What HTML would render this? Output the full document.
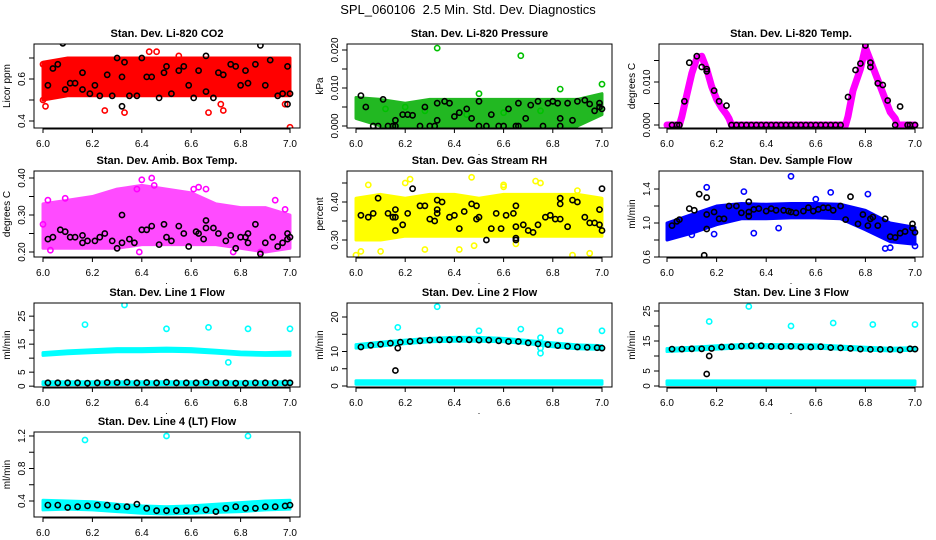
<!DOCTYPE html>
<html><head><meta charset="utf-8"><style>
body{margin:0;background:#fff}
svg{display:block;font-family:"Liberation Sans",Arial,sans-serif}
</style></head><body>
<svg id="chart" width="936" height="540" viewBox="0 0 936 540">
<text x="468" y="14" text-anchor="middle" font-size="13">SPL_060106 &#160;2.5 Min. Std. Dev. Diagnostics</text>
</svg>
<script>
const bandX=[6.0,6.1,6.2,6.3,6.4,6.5,6.6,6.7,6.8,6.9,7.0];
const lineX=[6.02,6.06,6.1,6.14,6.18,6.22,6.26,6.3,6.34,6.38,6.42,6.46,6.5,6.54,6.58,6.62,6.66,6.7,6.74,6.78,6.82,6.86,6.9,6.94,6.98,7.0];
const xTicks=[6.0,6.2,6.4,6.6,6.8,7.0];
const xTickLabels=["6.0","6.2","6.4","6.6","6.8","7.0"];

const co2Lower=[0.5,0.52,0.52,0.52,0.52,0.52,0.52,0.52,0.52,0.52,0.52];
const co2Upper=[0.68,0.7,0.7,0.7,0.7,0.7,0.7,0.7,0.7,0.7,0.7];
const co2Outliers=[[6.0,0.5],[6.01,0.47],[6.25,0.45],[6.33,0.44],[6.67,0.44],[6.73,0.45],[7.0,0.37],[6.43,0.73],[6.46,0.73],[6.0,0.67],[6.98,0.48],[6.72,0.48],[6.14,0.69],[6.55,0.71]];
const co2BlackX=[6.02,6.04,6.06,6.08,6.09,6.11,6.13,6.16,6.16,6.19,6.21,6.23,6.26,6.28,6.3,6.32,6.32,6.33,6.35,6.38,6.4,6.42,6.44,6.47,6.49,6.5,6.52,6.55,6.57,6.59,6.61,6.63,6.66,6.66,6.69,6.71,6.73,6.76,6.78,6.8,6.82,6.83,6.86,6.88,6.9,6.92,6.95,6.97,6.99,7.0,6.99];
const co2BlackY=[0.57,0.65,0.67,0.77,0.55,0.58,0.58,0.63,0.55,0.53,0.57,0.52,0.62,0.52,0.7,0.61,0.47,0.68,0.52,0.52,0.7,0.61,0.61,0.51,0.63,0.66,0.53,0.64,0.66,0.57,0.51,0.64,0.71,0.54,0.51,0.63,0.62,0.67,0.66,0.57,0.64,0.58,0.67,0.76,0.57,0.69,0.52,0.53,0.66,0.53,0.48];

const presLower=[0.002,0,0,0,0,0,0,0,0,0,0.003];
const presUpper=[0.0075,0.007,0.006,0.007,0.007,0.007,0.007,0.007,0.007,0.007,0.0085];
const presOutliers=[[6.33,0.0205],[6.67,0.0185],[7.0,0.011],[6.83,0.0097],[6.5,0.0085],[6.12,0.0045],[6.2,0.005],[6.28,0.004],[6.45,0.003],[6.6,0.0035],[6.75,0.004]];
const presBlack=[[6.02,0.008],[6.04,0.005],[6.07,0],[6.09,0],[6.11,0.007],[6.13,0],[6.15,0],[6.16,0.0015],[6.16,0],[6.19,0.003],[6.21,0.003],[6.23,0.0028],[6.26,0],[6.28,0.005],[6.3,0],[6.32,0],[6.33,0.0015],[6.33,0.006],[6.36,0.0065],[6.38,0.006],[6.4,0.0025],[6.42,0.0035],[6.45,0.0045],[6.47,0.002],[6.5,0.0065],[6.5,0],[6.53,0],[6.55,0.003],[6.58,0],[6.6,0],[6.62,0.0045],[6.65,0],[6.66,0],[6.66,0.006],[6.69,0.002],[6.71,0.0055],[6.74,0.0065],[6.76,0],[6.78,0.006],[6.8,0.0065],[6.82,0.006],[6.83,0.002],[6.83,0],[6.86,0.006],[6.88,0.0015],[6.9,0.0065],[6.93,0.0068],[6.95,0.0058],[6.97,0.004],[6.99,0.006],[7.0,0.0045],[6.99,0.005]];

const tempCurveX=[6.0,6.05,6.06,6.08,6.1,6.12,6.14,6.16,6.18,6.2,6.22,6.24,6.25,6.26,6.72,6.73,6.75,6.78,6.8,6.82,6.84,6.86,6.88,6.9,6.92,6.93,7.0];
const tempCurveY=[0,0,0.002,0.007,0.012,0.0155,0.016,0.013,0.009,0.006,0.004,0.0025,0.0015,0,0,0.002,0.008,0.013,0.018,0.015,0.012,0.009,0.006,0.003,0.0015,0,0];
const tempBlack=[[6.02,0],[6.04,0],[6.05,0],[6.07,0.0055],[6.09,0.0145],[6.12,0.016],[6.14,0.0135],[6.16,0.013],[6.16,0.0125],[6.19,0.008],[6.21,0.0055],[6.24,0.0045],[6.26,0],[6.28,0],[6.3,0],[6.32,0],[6.34,0],[6.36,0],[6.38,0],[6.4,0],[6.42,0],[6.44,0],[6.46,0],[6.48,0],[6.5,0],[6.52,0],[6.54,0],[6.56,0],[6.58,0],[6.6,0],[6.62,0],[6.64,0],[6.66,0],[6.68,0],[6.7,0],[6.73,0.0065],[6.76,0.0128],[6.78,0.0143],[6.8,0.0185],[6.82,0.0135],[6.82,0.0145],[6.85,0.0097],[6.87,0.0093],[6.89,0.0057],[6.92,0],[6.94,0.0043],[6.97,0],[6.98,0],[7.0,0]];

const ambLower=[0.21,0.21,0.21,0.21,0.22,0.22,0.22,0.22,0.21,0.2,0.21];
const ambUpper=[0.33,0.34,0.35,0.37,0.38,0.37,0.36,0.33,0.32,0.32,0.3];
const ambOutliers=[[6.02,0.34],[6.09,0.345],[6.38,0.37],[6.4,0.395],[6.44,0.4],[6.45,0.38],[6.63,0.375],[6.61,0.37],[6.66,0.37],[6.94,0.34],[6.98,0.315],[6.0,0.275],[6.03,0.205],[6.39,0.2],[6.77,0.2],[6.88,0.2]];
const ambBlack=[[6.02,0.235],[6.04,0.24],[6.07,0.26],[6.09,0.255],[6.11,0.24],[6.13,0.24],[6.16,0.245],[6.16,0.225],[6.18,0.23],[6.21,0.23],[6.23,0.24],[6.25,0.25],[6.28,0.23],[6.3,0.21],[6.32,0.225],[6.32,0.3],[6.35,0.235],[6.37,0.225],[6.4,0.26],[6.42,0.26],[6.44,0.27],[6.47,0.22],[6.49,0.275],[6.5,0.24],[6.52,0.23],[6.55,0.27],[6.57,0.25],[6.59,0.215],[6.62,0.255],[6.63,0.25],[6.65,0.235],[6.66,0.285],[6.66,0.265],[6.69,0.265],[6.71,0.25],[6.74,0.23],[6.76,0.245],[6.78,0.21],[6.8,0.24],[6.82,0.24],[6.83,0.25],[6.83,0.225],[6.86,0.275],[6.88,0.195],[6.9,0.225],[6.93,0.24],[6.95,0.215],[6.97,0.225],[6.99,0.25],[7.0,0.24],[6.99,0.235]];

const rhLower=[0.3,0.3,0.31,0.31,0.31,0.31,0.31,0.31,0.31,0.31,0.31];
const rhUpper=[0.41,0.42,0.41,0.42,0.42,0.41,0.42,0.42,0.42,0.42,0.41];
const rhOutliers=[[6.0,0.26],[6.02,0.27],[6.1,0.27],[6.2,0.45],[6.22,0.46],[6.47,0.465],[6.42,0.275],[6.28,0.275],[6.6,0.445],[6.6,0.44],[6.73,0.455],[6.75,0.45],[6.88,0.26],[6.95,0.265],[6.9,0.43],[6.05,0.445],[6.48,0.285],[6.65,0.29]];
const rhBlack=[[6.02,0.365],[6.05,0.36],[6.07,0.37],[6.09,0.41],[6.13,0.37],[6.15,0.36],[6.16,0.38],[6.16,0.36],[6.16,0.325],[6.19,0.34],[6.21,0.37],[6.23,0.435],[6.26,0.39],[6.28,0.39],[6.3,0.355],[6.32,0.35],[6.33,0.405],[6.33,0.38],[6.33,0.37],[6.35,0.4],[6.38,0.36],[6.4,0.365],[6.42,0.33],[6.44,0.375],[6.47,0.395],[6.49,0.355],[6.49,0.39],[6.5,0.36],[6.53,0.3],[6.55,0.33],[6.57,0.37],[6.59,0.33],[6.61,0.365],[6.64,0.37],[6.65,0.39],[6.65,0.3],[6.65,0.305],[6.65,0.335],[6.68,0.34],[6.7,0.325],[6.72,0.32],[6.74,0.34],[6.77,0.36],[6.79,0.365],[6.81,0.355],[6.83,0.41],[6.83,0.395],[6.83,0.355],[6.86,0.335],[6.88,0.405],[6.9,0.4],[6.93,0.36],[6.95,0.345],[6.97,0.345],[6.99,0.38],[7.0,0.435],[6.99,0.34],[7.0,0.325]];

const sfLower=[0.8,0.88,0.98,1.05,1.05,1.06,1.06,1.05,0.92,0.78,0.75];
const sfUpper=[1.0,1.1,1.2,1.23,1.22,1.23,1.23,1.22,1.15,1.0,0.95];
const sfOutliers=[[6.5,1.55],[6.31,1.37],[6.16,1.42],[6.81,1.34],[6.66,1.36],[6.19,0.87],[6.88,0.7],[6.9,0.71],[7.0,0.73],[6.35,0.88],[6.45,0.94],[6.1,0.86],[6.6,1.28]];
const sfBlack=[[6.02,0.97],[6.04,1.02],[6.05,1.04],[6.09,1.17],[6.11,1.15],[6.13,1.34],[6.16,1.3],[6.16,1.1],[6.16,0.93],[6.15,0.62],[6.19,1.13],[6.21,1.05],[6.23,1.05],[6.25,1.2],[6.28,1.2],[6.3,1.12],[6.33,1.25],[6.33,1.13],[6.33,1.08],[6.35,1.16],[6.37,1.17],[6.4,1.14],[6.42,1.17],[6.44,1.15],[6.47,1.15],[6.49,1.14],[6.5,1.13],[6.52,1.12],[6.55,1.14],[6.57,1.18],[6.59,1.14],[6.61,1.16],[6.63,1.18],[6.65,1.18],[6.67,1.15],[6.7,1.2],[6.72,1.04],[6.74,1.31],[6.77,0.99],[6.79,1.1],[6.81,0.97],[6.82,1.05],[6.83,1.07],[6.85,0.97],[6.88,1.05],[6.9,0.84],[6.92,0.83],[6.94,0.88],[6.96,0.9],[6.99,0.99],[6.99,0.94],[7.0,0.89]];

const l1Lower=[11,11.6,12,12.3,12.3,12.5,12.3,11.8,11.2,11,11];
const l1Upper=[12,12.6,13,13.4,13.4,13.6,13.4,12.8,12.2,12,12.2];
const l1BaseLower=[0.6,0.6,0.6,0.6,0.6,0.6,0.6,0.6,0.6,0.6,0.6];
const l1BaseUpper=[1.6,1.6,1.6,1.6,1.6,1.6,1.6,1.6,1.6,1.6,1.6];
const l1Outliers=[[6.17,22],[6.33,29],[6.5,20.5],[6.67,21],[6.83,20.5],[7.0,20.5],[6.75,8.5]];
const l1BlackY=[1.2,1.2,1.2,1.2,1.1,1.2,1.3,1.3,1.4,1.2,1.3,1.2,1.4,1.2,1.2,1.2,1.4,1.2,1.2,1.1,1.1,1.2,1.2,1.2,1.2,1.2];
const l1Extra=[];

const l2Lower=[11,11.6,12.3,12.8,13,13,12.8,12.3,11.4,10.8,10.6];
const l2Upper=[12,12.7,13.3,13.8,14.1,14.1,13.8,13.2,12.5,11.9,11.7];
const l2BaseLower=[0.5,0.5,0.5,0.5,0.5,0.5,0.5,0.5,0.5,0.5,0.5];
const l2BaseUpper=[1.5,1.5,1.5,1.5,1.5,1.5,1.5,1.5,1.5,1.5,1.5];
const l2Outliers=[[6.17,17],[6.33,23],[6.5,16],[6.67,16.5],[6.83,16],[7.0,16],[6.75,9.5],[6.75,14],[6.75,11]];
const l2BlackY=[11.3,11.8,12.1,12.4,12.7,12.9,13.1,13.3,13.4,13.4,13.5,13.4,13.3,13.3,13.1,12.9,12.9,12.5,12.2,12.0,11.7,11.5,11.3,11.2,11.1,11.0];
const l2Extra=[[6.16,4.5],[6.17,11]];

const l3Lower=[11.5,11.9,12.3,12.7,12.7,12.7,12.6,12.3,11.9,11.7,11.9];
const l3Upper=[12.5,12.9,13.4,13.8,13.8,13.8,13.7,13.3,12.9,12.6,12.8];
const l3BaseLower=[0.5,0.5,0.5,0.5,0.5,0.5,0.5,0.5,0.5,0.5,0.5];
const l3BaseUpper=[1.7,1.7,1.7,1.7,1.7,1.7,1.7,1.7,1.7,1.7,1.7];
const l3Outliers=[[6.17,21.5],[6.33,26.5],[6.5,20],[6.67,21],[6.83,20.5],[7.0,20.5]];
const l3BlackY=[12.3,12.3,12.4,12.4,12.5,13.0,13.1,13.3,13.4,13.4,13.2,13.1,13.2,13.0,13.0,13.1,12.8,12.7,12.5,12.3,12.2,12.2,12.2,12.0,12.4,12.3];
const l3Extra=[[6.16,4],[6.17,10]];

const l4Lower=[0.29,0.3,0.29,0.27,0.25,0.24,0.25,0.26,0.27,0.29,0.3];
const l4Upper=[0.41,0.4,0.39,0.36,0.34,0.33,0.34,0.36,0.38,0.4,0.41];
const l4Outliers=[[6.17,1.15],[6.5,1.2],[6.83,1.2]];
const l4BlackY=[0.35,0.35,0.32,0.33,0.34,0.35,0.35,0.33,0.33,0.36,0.31,0.28,0.28,0.28,0.28,0.3,0.29,0.27,0.31,0.33,0.31,0.31,0.33,0.33,0.34,0.35];

const NS="http://www.w3.org/2000/svg";
const svg=document.getElementById('chart');
const COLS=[{l:34,r:300,x0:43,x1:290},{l:347,r:612,x0:356,x1:602},{l:659,r:923,x0:667,x1:915}];
const ROWS=[{t:44,b:128},{t:171,b:257},{t:303,b:387},{t:432,b:517}];
function mk(tag,attrs,parent){const e=document.createElementNS(NS,tag);for(const k in attrs)e.setAttribute(k,attrs[k]);(parent||svg).appendChild(e);return e;}

function panel(p){
  const c=COLS[p.col],r=ROWS[p.row];
  const g=mk('g',{});
  
  
  const sx=v=>c.x0+(v-6)*(c.x1-c.x0);
  const sy=v=>r.b-(v-p.ymin)/(p.ymax-p.ymin)*(r.b-r.t);
  const clip='clip'+p.name;
  const cp=mk('clipPath',{id:clip},g);mk('rect',{x:c.l,y:r.t,width:c.r-c.l,height:r.b-r.t},cp);
  const plot=mk('g',{'clip-path':'url(#'+clip+')'},g);
  (p.bands||[]).forEach(b=>{
    let d='';
    bandX.forEach((x,i)=>{d+=(i?'L':'M')+sx(x).toFixed(1)+','+sy(b.hi[i]).toFixed(1);});
    for(let i=bandX.length-1;i>=0;i--)d+='L'+sx(bandX[i]).toFixed(1)+','+sy(b.lo[i]).toFixed(1);
    const e=mk('path',{d:d+'Z',fill:b.color,stroke:b.color,'stroke-width':3,'stroke-linejoin':'round',opacity:b.op||1},plot);
    
    
  });
  if(p.curveX){
    const pts=p.curveX.map((x,i)=>sx(x).toFixed(1)+','+sy(p.curveY[i]).toFixed(1)).join(' ');
    const e=mk('polyline',{points:pts,fill:'none',stroke:p.color,'stroke-width':7,'stroke-linejoin':'round','stroke-linecap':'round'},plot);
    
    
  }
  const dot=(x,y,col)=>{const e=mk('circle',{cx:sx(x).toFixed(1),cy:sy(y).toFixed(1),r:2.6,fill:'none',stroke:col,'stroke-width':1.6},plot);
    
    };
  (p.outliers||[]).forEach(q=>dot(q[0],q[1],p.color));
  (p.black||[]).forEach(q=>dot(q[0],q[1],'#000'));
  const bx=mk('rect',{x:c.l,y:r.t,width:c.r-c.l,height:r.b-r.t,fill:'none',stroke:'#000','stroke-width':1},g);
  
  
  mk('line',{x1:sx(6),x2:sx(7),y1:r.b+1,y2:r.b+1,stroke:'#000'},g);
  xTicks.forEach((t,i)=>{
    mk('line',{x1:sx(t),x2:sx(t),y1:r.b,y2:r.b+5,stroke:'#000'},g);
    const tx=mk('text',{x:sx(t),y:r.b+19,'text-anchor':'middle','font-size':10},g);
    tx.textContent=xTickLabels[i];
    
    
  });
  const dt=mk('text',{x:(sx(6)+sx(7))/2,y:r.b+27,'text-anchor':'middle','font-size':9},g);dt.textContent='.';
  p.yTicks.forEach((t,i)=>{
    const y=sy(t);
    mk('line',{x1:c.l-5,x2:c.l,y1:y,y2:y,stroke:'#000'},g);
    if(p.yLabels[i]){
      const tx=mk('text',{x:0,y:0,'text-anchor':'middle','font-size':10,transform:`translate(${c.l-9},${y}) rotate(-90)`},g);
      tx.textContent=p.yLabels[i];
      
      
    }
  });
  const yt=mk('text',{x:0,y:0,'text-anchor':'middle','font-size':10,transform:`translate(${c.l-24},${(r.t+r.b)/2}) rotate(-90)`},g);
  yt.textContent=p.ylab;
  
  
  const ti=mk('text',{x:(c.l+c.r)/2,y:r.t-7,'text-anchor':'middle','font-size':11,'font-weight':'bold'},g);
  ti.textContent=p.title;
  
  
}
const pairs=(xs,ys)=>xs.map((x,i)=>[x,ys[i]]).filter(q=>q[1]!==undefined);

panel({name:'panel-co2',col:0,row:0,title:'Stan. Dev. Li-820 CO2',ylab:'Licor ppm',color:'#ff0000',ymin:0.3667,ymax:0.7667,
  yTicks:[0.4,0.5,0.6,0.7],yLabels:['0.4','','0.6',''],bands:[{lo:co2Lower,hi:co2Upper,color:'#ff0000'}],outliers:co2Outliers,black:pairs(co2BlackX,co2BlackY)});
panel({name:'panel-pressure',col:1,row:0,title:'Stan. Dev. Li-820 Pressure',ylab:'kPa',color:'#00c000',ymin:-0.00053,ymax:0.02158,
  yTicks:[0,0.005,0.01,0.015,0.02],yLabels:['0.000','','0.010','','0.020'],bands:[{lo:presLower,hi:presUpper,color:'#22b822'}],outliers:presOutliers,black:presBlack});
panel({name:'panel-li820-temp',col:2,row:0,title:'Stan. Dev. Li-820 Temp.',ylab:'degrees C',color:'#ff00ff',ymin:-0.0007,ymax:0.01884,
  yTicks:[0,0.005,0.01,0.015],yLabels:['0.000','','0.010',''],curveX:tempCurveX,curveY:tempCurveY,black:tempBlack});
panel({name:'panel-amb-box-temp',col:0,row:1,title:'Stan. Dev. Amb. Box Temp.',ylab:'degrees C',color:'#ff00ff',ymin:0.1865,ymax:0.4189,
  yTicks:[0.2,0.25,0.3,0.35,0.4],yLabels:['0.20','','0.30','','0.40'],bands:[{lo:ambLower,hi:ambUpper,color:'#ff00ff',op:0.7}],outliers:ambOutliers,black:ambBlack});
panel({name:'panel-gas-rh',col:1,row:1,title:'Stan. Dev. Gas Stream RH',ylab:'percent',color:'#ffff00',ymin:0.2553,ymax:0.4816,
  yTicks:[0.3,0.35,0.4,0.45],yLabels:['0.30','','0.40',''],bands:[{lo:rhLower,hi:rhUpper,color:'#ffff00'}],outliers:rhOutliers,black:rhBlack});
panel({name:'panel-sample-flow',col:2,row:1,title:'Stan. Dev. Sample Flow',ylab:'ml/min',color:'#0000ff',ymin:0.6,ymax:1.612,
  yTicks:[0.6,0.8,1.0,1.2,1.4],yLabels:['0.6','','1.0','','1.4'],bands:[{lo:sfLower,hi:sfUpper,color:'#0000ff'}],outliers:sfOutliers,black:sfBlack});
panel({name:'panel-line1-flow',col:0,row:2,title:'Stan. Dev. Line 1 Flow',ylab:'ml/min',color:'#00ffff',ymin:-0.3,ymax:29.7,
  yTicks:[0,5,10,15,20,25],yLabels:['0','5','','15','','25'],bands:[{lo:l1Lower,hi:l1Upper,color:'#00ffff'},{lo:l1BaseLower,hi:l1BaseUpper,color:'#00ffff'}],outliers:l1Outliers,black:pairs(lineX,l1BlackY).concat(l1Extra)});
panel({name:'panel-line2-flow',col:1,row:2,title:'Stan. Dev. Line 2 Flow',ylab:'ml/min',color:'#00ffff',ymin:-0.29,ymax:24.06,
  yTicks:[0,5,10,15,20],yLabels:['0','5','10','','20'],bands:[{lo:l2Lower,hi:l2Upper,color:'#00ffff'},{lo:l2BaseLower,hi:l2BaseUpper,color:'#00ffff'}],outliers:l2Outliers,black:pairs(lineX,l2BlackY).concat(l2Extra)});
panel({name:'panel-line3-flow',col:2,row:2,title:'Stan. Dev. Line 3 Flow',ylab:'ml/min',color:'#00ffff',ymin:-0.33,ymax:27.67,
  yTicks:[0,5,10,15,20,25],yLabels:['0','5','','15','','25'],bands:[{lo:l3Lower,hi:l3Upper,color:'#00ffff'},{lo:l3BaseLower,hi:l3BaseUpper,color:'#00ffff'}],outliers:l3Outliers,black:pairs(lineX,l3BlackY).concat(l3Extra)});
panel({name:'panel-line4-flow',col:0,row:3,title:'Stan. Dev. Line 4 (LT) Flow',ylab:'ml/min',color:'#00ffff',ymin:0.203,ymax:1.249,
  yTicks:[0.4,0.6,0.8,1.0,1.2],yLabels:['0.4','','0.8','','1.2'],bands:[{lo:l4Lower,hi:l4Upper,color:'#00ffff'}],outliers:l4Outliers,black:pairs(lineX,l4BlackY)});
</script>
</body></html>
